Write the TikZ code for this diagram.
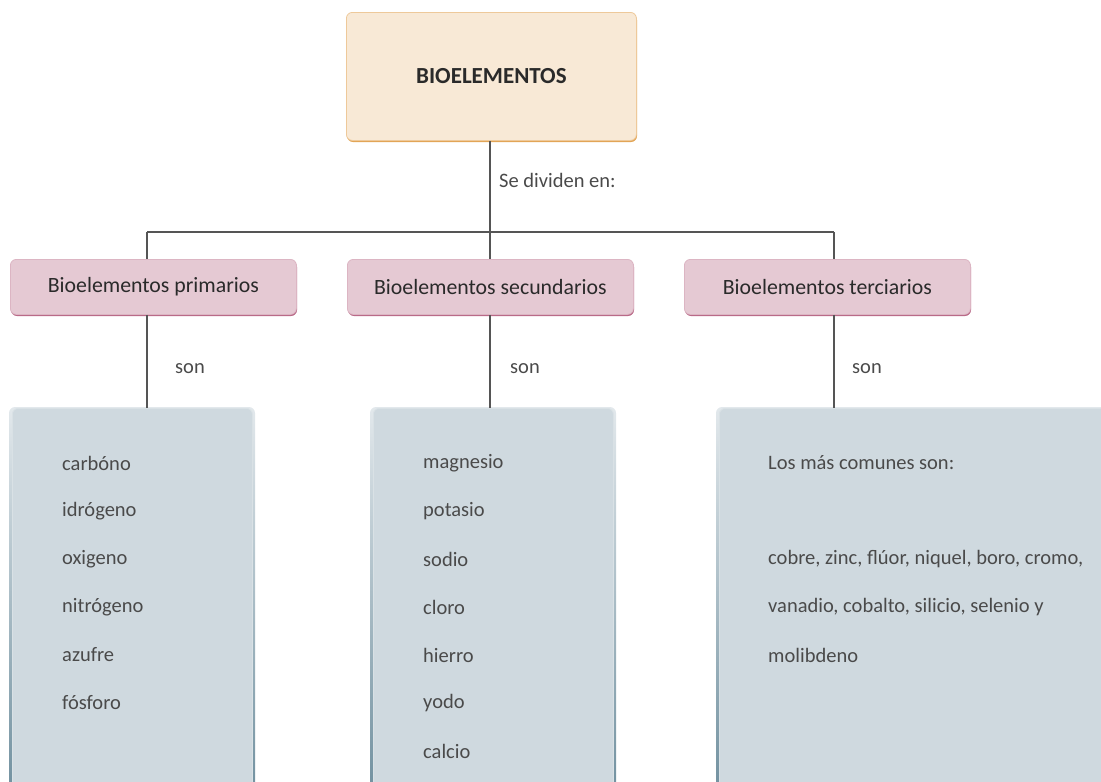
\documentclass[tikz,border=0pt]{standalone}
\usepackage{fontspec}
\setmainfont{Carlito}
\usetikzlibrary{calc}
\definecolor{topfill}{HTML}{F8E9D6}
\definecolor{topedge}{HTML}{E2A556}
\definecolor{pinkfill}{HTML}{E5C9D3}
\definecolor{pinkedge}{HTML}{B96A88}
\definecolor{bluefill}{HTML}{CFD9DF}
\definecolor{blueedge}{HTML}{6F8F9E}
\definecolor{linegray}{HTML}{555555}
\definecolor{txt}{HTML}{2A2A2A}
\definecolor{itemtxt}{HTML}{4A4A4A}
\tikzset{
  x=1pt, y=-1pt,
  topbox/.style={anchor=north west, rounded corners=6pt, fill=topfill, draw=topedge!60, line width=0.8pt,
    minimum width=290pt, minimum height=128pt, inner sep=0pt, font=\bfseries\fontsize{23}{26}\selectfont, text=txt},
  pinkbox/.style={anchor=north west, rounded corners=6pt, fill=pinkfill, draw=pinkedge!50, line width=0.8pt,
    minimum width=286pt, minimum height=55pt, inner sep=0pt, font=\fontsize{21.8}{24}\selectfont, text=txt},
  bluebox/.style={anchor=north west, rounded corners=6pt, fill=bluefill, draw=bluefill!80!white, line width=0.8pt,
    inner sep=0pt},
  conn/.style={draw=linegray, line width=1.6pt},
  lbl/.style={anchor=west, font=\fontsize{20.5}{22}\selectfont, text=itemtxt, inner sep=0pt},
  item/.style={anchor=west, font=\fontsize{20.5}{22}\selectfont, text=itemtxt, inner sep=0pt},
}
\begin{document}
\begin{tikzpicture}
\useasboundingbox (0,0) rectangle (1101,782);
\clip (0,0) rectangle (1101,782);
% connector coordinates
\coordinate (h1) at (147,232);
\coordinate (h2) at (490,232);
\coordinate (h3) at (834,232);
% top box shadow
\fill[topedge, rounded corners=6pt] (347,14) rectangle (637,142);
\node[topbox] (top) at (346,12) {BIOELEMENTOS};
% pink boxes shadows
\fill[pinkedge, rounded corners=6pt] (11,261) rectangle (297,316);
\fill[pinkedge, rounded corners=6pt] (348,261) rectangle (634,316);
\fill[pinkedge, rounded corners=6pt] (685,261) rectangle (971,316);
\node[pinkbox] (p1) at (10,259) {Bioelementos primarios};
\node[pinkbox] (p2) at (347,259) {Bioelementos secundarios};
\node[pinkbox] (p3) at (684,259) {Bioelementos terciarios};
% blue boxes shadows
\shade[top color=bluefill!60!white, bottom color=blueedge, rounded corners=6pt] (9,407) rectangle (255,800);
\shade[top color=bluefill!60!white, bottom color=blueedge, rounded corners=6pt] (370,407) rectangle (616,800);
\shade[top color=bluefill!60!white, bottom color=blueedge, rounded corners=6pt] (716,407) rectangle (1120,800);
\node[bluebox, minimum width=240pt, minimum height=400pt] (b1) at (12,408) {};
\node[bluebox, minimum width=240pt, minimum height=400pt] (b2) at (373,408) {};
\node[bluebox, minimum width=400pt, minimum height=400pt] (b3) at (719,408) {};
% connectors
\draw[conn] (top.south -| h2) -- (h2);
\draw[conn] (h1) -- (h3);
\draw[conn] (h1) -- (h1 |- p1.north);
\draw[conn] (h2) -- (h2 |- p2.north);
\draw[conn] (h3) -- (h3 |- p3.north);
\draw[conn] (h1 |- p1.south) -- (h1 |- b1.north);
\draw[conn] (h2 |- p2.south) -- (h2 |- b2.north);
\draw[conn] (h3 |- p3.south) -- (h3 |- b3.north);
% labels
\node[lbl] (l0) at (499,180) {Se dividen en:};
\node[lbl] (l1) at (175,369) {son};
\node[lbl] (l2) at (510,369) {son};
\node[lbl] (l3) at (852,369) {son};
% items box 1
\node[item] (a1) at (62,463) {carbóno};
\node[item] (a2) at (62,511) {idrógeno};
\node[item] (a3) at (62,559) {oxigeno};
\node[item] (a4) at (62,607) {nitrógeno};
\node[item] (a5) at (62,655) {azufre};
\node[item] (a6) at (62,703) {fósforo};
% items box 2
\node[item] (c1) at (423,463) {magnesio};
\node[item] (c2) at (423,511) {potasio};
\node[item] (c3) at (423,559) {sodio};
\node[item] (c4) at (423,607) {cloro};
\node[item] (c5) at (423,655) {hierro};
\node[item] (c6) at (423,703) {yodo};
\node[item] (c7) at (423,751) {calcio};
% items box 3
\node[item] (d1) at (768,463) {Los más comunes son:};
\node[item] (d2) at (768,559) {cobre, zinc, flúor, niquel, boro, cromo,};
\node[item] (d3) at (768,607) {vanadio, cobalto, silicio, selenio y};
\node[item] (d4) at (768,655) {molibdeno};
\end{tikzpicture}
\end{document}
